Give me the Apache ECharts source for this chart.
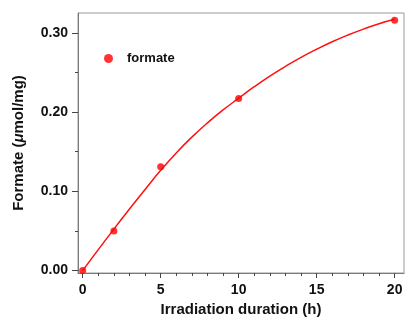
<!DOCTYPE html>
<html>
<head>
<meta charset="utf-8">
<script src="https://cdn.jsdelivr.net/npm/echarts@6/dist/echarts.min.js"></script>
<style>
  html, body { margin: 0; padding: 0; background: #fff; }
  #chart { width: 406px; height: 322px; }
</style>
</head>
<body>
<div id="chart"></div>
<script>
// measured points
const hours = [0, 2, 5, 10, 20]
const formate = [0, 0.05, 0.131, 0.217, 0.316]

// fitted curve
const fitHours = [0, 1, 2, 3, 4, 5, 6, 7, 8, 9, 10, 11, 12, 13, 14, 15, 16, 17, 18, 19, 20]
const fitFormate = [0, 0.0265, 0.0524, 0.0777, 0.1024, 0.1265, 0.1485, 0.1684, 0.1864, 0.2027, 0.2175,
    0.2320, 0.2454, 0.2577, 0.2690, 0.2793, 0.2887, 0.2971, 0.3047, 0.3115, 0.3170]

const xLabels = [0, 5, 10, 15, 20]
const xMinor = [1, 2, 3, 4, 6, 7, 8, 9, 11, 12, 13, 14, 16, 17, 18, 19]
const yLabels = [0, 0.1, 0.2, 0.3]
const yMinor = [0.05, 0.15, 0.25]

const chart = echarts.init(document.getElementById('chart'))

const font = 'Liberation Sans, Arial, sans-serif'
const axisGrey = '#7a7a7a'
const tickStyle = { color: '#444', width: 1 }
const labelStyle = { fontSize: 14, fontWeight: 'bold', color: '#111', fontFamily: font }

const xRange = { type: 'value', min: -0.3, max: 20.6 }
const yRange = { type: 'value', min: -0.003, max: 0.325 }

const option = {
    animation: false,
    backgroundColor: '#fff',
    textStyle: { fontFamily: font },
    grid: {
        left: 78, right: 2, top: 13, bottom: 45,
        show: true, borderColor: '#999', borderWidth: 1
    },
    legend: {
        left: 99, top: 47,
        icon: 'circle', itemWidth: 9, itemHeight: 9,
        data: ['formate'],
        textStyle: { fontSize: 13, fontWeight: 'bold', color: '#111', padding: [0, 0, 0, 9] }
    },
    xAxis: [{
        ...xRange,
        name: 'Irradiation duration (h)',
        nameLocation: 'middle', nameGap: 29,
        nameTextStyle: { fontSize: 15, fontWeight: 'bold', color: '#111' },
        axisLine: { onZero: false, lineStyle: { color: axisGrey } },
        axisTick: { customValues: xLabels, length: 5, lineStyle: tickStyle },
        axisLabel: { customValues: xLabels, margin: 10, ...labelStyle },
        splitLine: { show: false }
    }, {
        ...xRange, position: 'bottom',
        axisLine: { show: false, onZero: false },
        axisTick: { show: true, customValues: xMinor, length: 3, lineStyle: tickStyle },
        axisLabel: { show: false },
        splitLine: { show: false }
    }],
    yAxis: [{
        ...yRange,
        name: '{n|Formate (}{i|μ}{n|mol/mg)}',
        nameLocation: 'middle', nameGap: 52, nameRotate: 90,
        nameTextStyle: {
            rich: {
                n: { fontSize: 15, fontWeight: 'bold', color: '#111', fontFamily: font },
                i: { fontSize: 15, fontWeight: 'bold', fontStyle: 'italic', color: '#111', fontFamily: font }
            }
        },
        axisLine: { show: true, onZero: false, lineStyle: { color: axisGrey } },
        axisTick: { show: true, customValues: yLabels, length: 6, lineStyle: tickStyle },
        axisLabel: { customValues: yLabels, margin: 10, ...labelStyle, formatter: v => v.toFixed(2) },
        splitLine: { show: false }
    }, {
        ...yRange, position: 'left',
        axisLine: { show: false, onZero: false },
        axisTick: { show: true, customValues: yMinor, length: 3, lineStyle: tickStyle },
        axisLabel: { show: false },
        splitLine: { show: false }
    }],
    series: [{
        name: 'fit',
        type: 'line',
        smooth: true,
        symbol: 'none',
        data: fitHours.map((h, i) => [h, fitFormate[i]]),
        lineStyle: { color: '#ff1010', width: 1.5 },
        z: 2
    }, {
        name: 'formate',
        type: 'scatter',
        symbolSize: 7,
        clip: false,
        data: hours.map((h, i) => [h, formate[i]]),
        itemStyle: { color: '#ff0000' },
        z: 3
    }]
}

chart.setOption(option)
</script>
</body>
</html>
